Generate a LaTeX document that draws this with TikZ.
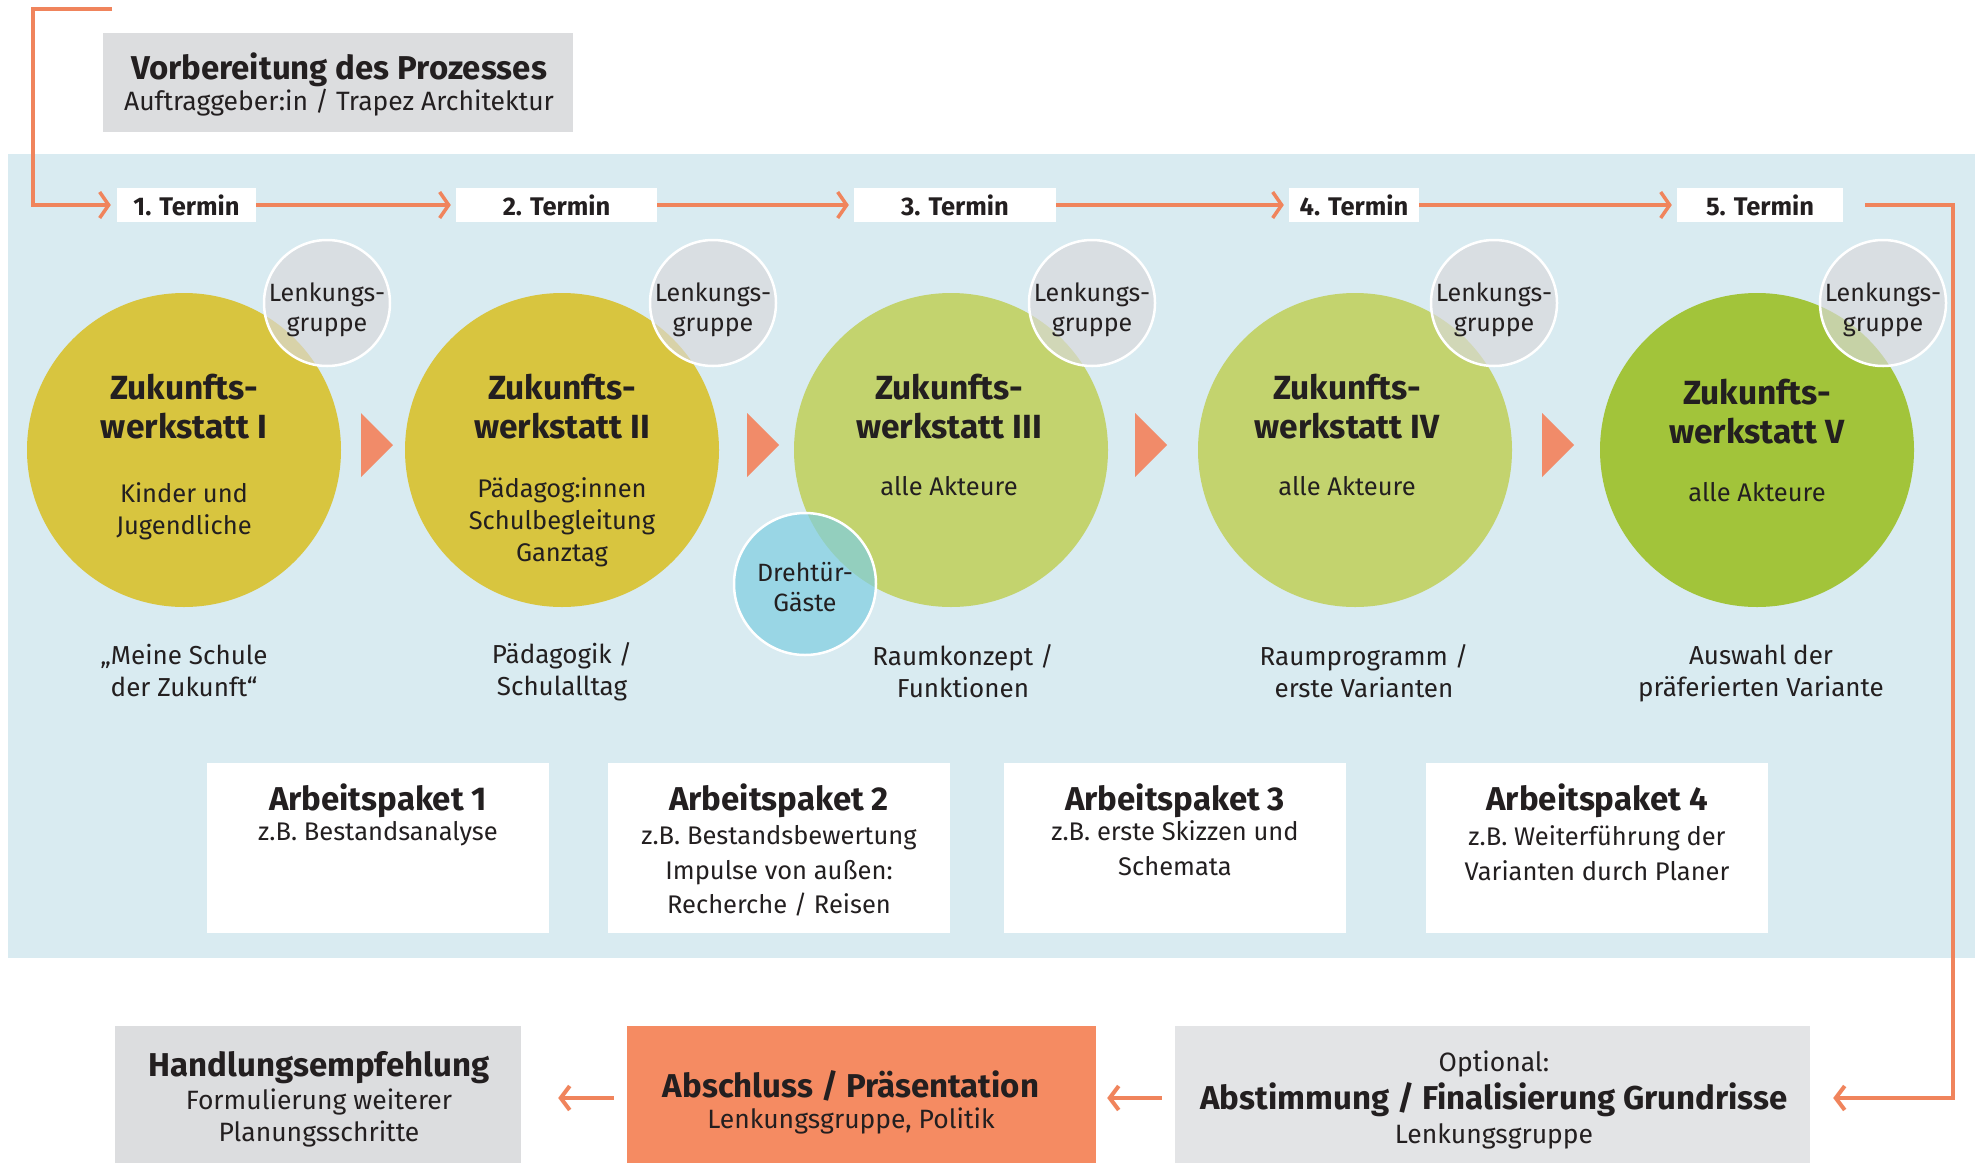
\documentclass[tikz,border=0pt]{standalone}
\usepackage{fontspec}
\setmainfont{Fira Sans}
\usetikzlibrary{arrows.meta}
\definecolor{bgblue}{HTML}{D9EBF1}
\definecolor{orng}{HTML}{F0845C}
\definecolor{tri}{HTML}{F18B69}
\definecolor{mustard}{HTML}{D8C53F}
\definecolor{lgreen}{HTML}{C3D36E}
\definecolor{dgreen}{HTML}{A2C43A}
\definecolor{lgrey}{HTML}{D9D9DC}
\definecolor{cyanc}{HTML}{7FCEE1}
\definecolor{boxgrey}{HTML}{DCDDDF}
\definecolor{boxgreyb}{HTML}{E3E4E6}
\definecolor{absc}{HTML}{F58B62}
\definecolor{txt}{HTML}{231F20}
\begin{document}
\begin{tikzpicture}[x=1pt,y=-1pt,
  oline/.style={draw=orng, line width=3.5pt, -{Straight Barb[length=9pt,width=26pt]}},
  bline/.style={draw=orng, line width=4pt, -{Straight Barb[length=9pt,width=24pt]}},
  termbox/.style={fill=white, minimum height=34pt, inner sep=0pt, font=\fontsize{25.5}{28}\selectfont\bfseries, text=txt},
  bigc/.style={circle, minimum size=314pt, inner sep=0pt},
  smallc/.style={circle, minimum size=126pt, inner sep=0pt, fill=lgrey, fill opacity=0.67, draw=white, line width=2.5pt},
  guestc/.style={circle, minimum size=142pt, inner sep=0pt, fill=cyanc, fill opacity=0.7, draw=white, line width=2.5pt},
  ttl/.style={align=center, text=txt, font=\fontsize{33.5}{39}\selectfont\bfseries},
  bdy/.style={align=center, text=txt, font=\fontsize{25.5}{32}\selectfont},
  captxt/.style={align=center, text=txt, font=\fontsize{26}{32}\selectfont},
  lk/.style={align=center, text=txt, font=\fontsize{25}{30}\selectfont},
  apbox/.style={fill=white, minimum width=342pt, minimum height=170pt, inner sep=0pt},
  aptl/.style={align=center, text=txt, font=\fontsize{33}{36}\selectfont\bfseries},
  apsub/.style={align=center, text=txt, font=\fontsize{25.5}{34.5}\selectfont},
  botsub/.style={align=center, text=txt, font=\fontsize{26.5}{32}\selectfont},
  trifill/.style={fill=tri}
]
\clip (0,0) rectangle (1975,1162);
\fill[white] (0,0) rectangle (1975,1162);
% background band
\fill[bgblue] (8,154) rectangle (1975,958);

% top box
\node[fill=boxgrey, minimum width=470pt, minimum height=99pt, inner sep=0pt] (prep) at (338,82.5) {};
\node[aptl] (prept) at (339,70) {Vorbereitung des Prozesses};
\node[botsub] (preps) at (339,103) {Auftraggeber:in / Trapez Architektur};

% Termin boxes
\node[termbox, minimum width=139pt] (t1) at (186.5,205) {1. Termin};
\node[termbox, minimum width=201pt] (t2) at (556.5,205) {2. Termin};
\node[termbox, minimum width=202pt] (t3) at (955,205) {3. Termin};
\node[termbox, minimum width=130pt] (t4) at (1354,205) {4. Termin};
\node[termbox, minimum width=166pt] (t5) at (1760,205) {5. Termin};

% Arbeitspakete
\node[apbox] (a1) at (378,848) {};
\node[apbox] (a2) at (779,848) {};
\node[apbox] (a3) at (1175,848) {};
\node[apbox] (a4) at (1597,848) {};

% bottom boxes
\node[fill=boxgrey, minimum width=406pt, minimum height=144pt, inner sep=0pt] (h) at (318,1098) {};
\node[fill=absc, minimum width=469pt, minimum height=144pt, inner sep=0pt] (abs) at (861.5,1098) {};
\node[fill=boxgreyb, minimum width=635pt, minimum height=144pt, inner sep=0pt] (ab) at (1492.5,1098) {};

% connectors
\coordinate (s0) at (112,9);
\coordinate (c0) at (33,9);
\coordinate (r1) at (1953,205);
\draw[oline] (s0) -- (c0) |- ([xshift=-6pt]t1.west);
\draw[oline] (t1.east) -- ([xshift=-5pt]t2.west);
\draw[oline] (t2.east) -- ([xshift=-5pt]t3.west);
\draw[oline] (t3.east) -- ([xshift=-5pt]t4.west);
\draw[oline] (t4.east) -- ([xshift=-5pt]t5.west);
\draw[bline] ([xshift=22pt]t5.east) -- (r1) |- ([xshift=23pt]ab.east);
\draw[bline] ([xshift=-13pt]ab.west) -- ([xshift=11pt]abs.east);
\draw[bline] ([xshift=-13pt]abs.west) -- ([xshift=37pt]h.east);

% big circles
\node[bigc, fill=mustard] (z1) at (184,450) {};
\node[bigc, fill=mustard] (z2) at (562,450) {};
\node[bigc, fill=lgreen] (z3) at (951,450) {};
\node[bigc, fill=lgreen] (z4) at (1355,450) {};
\node[bigc, fill=dgreen] (z5) at (1757,450) {};

% triangles
\fill[trifill] (361,413) -- (393,445) -- (361,477) -- cycle;
\fill[trifill] (747,413) -- (779,445) -- (747,477) -- cycle;
\fill[trifill] (1135,413) -- (1167,445) -- (1135,477) -- cycle;
\fill[trifill] (1542,413) -- (1574,445) -- (1542,477) -- cycle;

% small circles
\node[smallc] (l1) at (327,303) {};
\node[smallc] (l2) at (713,303) {};
\node[smallc] (l3) at (1092,303) {};
\node[smallc] (l4) at (1494,303) {};
\node[smallc] (l5) at (1883,303) {};
\node[guestc] (g) at (805,584) {};

% circle texts
\node[ttl] (zt1) at (184,407) {Zukunfts-\\werkstatt I};
\node[bdy] (zb1) at (184,511) {Kinder und\\Jugendliche};
\node[ttl] (zt2) at (562,407) {Zukunfts-\\werkstatt II};
\node[bdy] (zb2) at (562,522) {Pädagog:innen\\Schulbegleitung\\Ganztag};
\node[ttl] (zt3) at (949,407) {Zukunfts-\\werkstatt III};
\node[bdy] (zb3) at (949,486) {alle Akteure};
\node[ttl] (zt4) at (1347,407) {Zukunfts-\\werkstatt IV};
\node[bdy] (zb4) at (1347,486) {alle Akteure};
\node[ttl] (zt5) at (1757,412) {Zukunfts-\\werkstatt V};
\node[bdy] (zb5) at (1757,492) {alle Akteure};

\node[lk] (lt1) at (327,310) {Lenkungs-\\gruppe};
\node[lk] (lt2) at (713,310) {Lenkungs-\\gruppe};
\node[lk] (lt3) at (1092,310) {Lenkungs-\\gruppe};
\node[lk] (lt4) at (1494,310) {Lenkungs-\\gruppe};
\node[lk] (lt5) at (1883,310) {Lenkungs-\\gruppe};
\node[lk] (gt) at (805,587) {Drehtür-\\Gäste};

% captions
\node[captxt] (cp1) at (184,671) {„Meine Schule\\der Zukunft“};
\node[captxt] (cp2) at (562,672) {Pädagogik /\\Schulalltag};
\node[captxt] (cp3) at (963,671) {Raumkonzept /\\Funktionen};
\node[captxt] (cp4) at (1364,671) {Raumprogramm /\\erste Varianten};
\node[captxt] (cp5) at (1761,674) {Auswahl der\\präferierten Variante};

% AP texts
\node[aptl] (at1) at (378,801) {Arbeitspaket 1};
\node[apsub] (as1) at (378,834) {z.B. Bestandsanalyse};
\node[aptl] (at2) at (779,801) {Arbeitspaket 2};
\node[apsub] (as2) at (779,871) {z.B. Bestandsbewertung\\Impulse von außen:\\Recherche / Reisen};
\node[aptl] (at3) at (1175,801) {Arbeitspaket 3};
\node[apsub] (as3) at (1175,848) {z.B. erste Skizzen und\\Schemata};
\node[aptl] (at4) at (1597,801) {Arbeitspaket 4};
\node[apsub] (as4) at (1597,853) {z.B. Weiterführung der\\Varianten durch Planer};

% bottom texts
\node[aptl] (ht) at (319,1068) {Handlungsempfehlung};
\node[botsub] (hs) at (319,1118) {Formulierung weiterer\\Planungsschritte};
\node[aptl] (abst) at (851,1086) {Abschluss / Präsentation};
\node[botsub] (abss) at (851,1121) {Lenkungsgruppe, Politik};
\node[botsub] (abo) at (1494,1064) {Optional:};
\node[aptl] (abt) at (1494,1100) {Abstimmung / Finalisierung Grundrisse};
\node[botsub] (abls) at (1494,1136) {Lenkungsgruppe};
\end{tikzpicture}
\end{document}
